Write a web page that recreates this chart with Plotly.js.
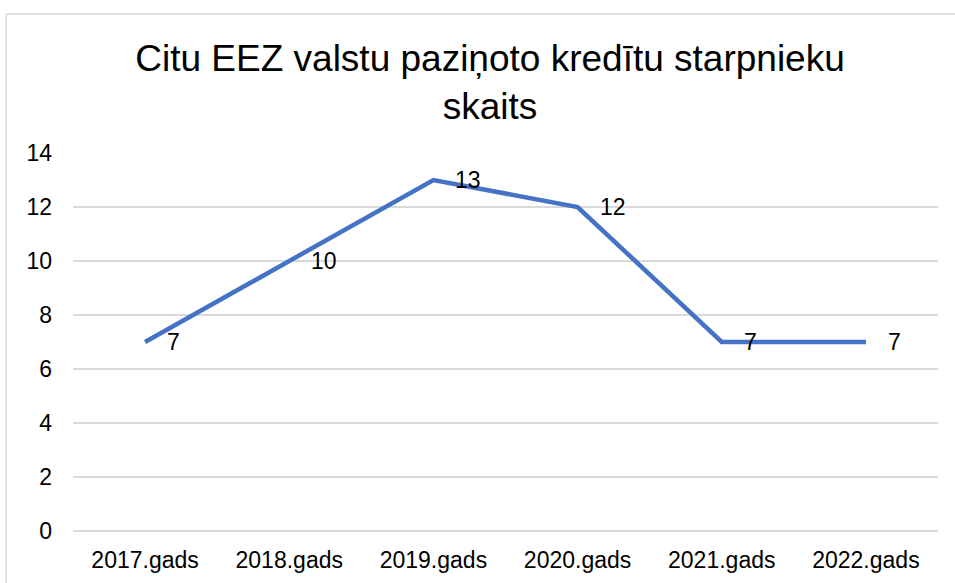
<!DOCTYPE html>
<html>
<head>
<meta charset="utf-8">
<script src="https://cdn.plot.ly/plotly-3.0.1.min.js"></script>
<style>
html, body { margin: 0; padding: 0; background: #ffffff; }
#chart { width: 955px; height: 583px; }
</style>
</head>
<body>
<div id="chart"></div>
<script>
const categories = ['2017.gads', '2018.gads', '2019.gads', '2020.gads', '2021.gads', '2022.gads'];
const values = [7, 10, 13, 12, 7, 7];
const yTicks = [0, 2, 4, 6, 8, 10, 12, 14];
const titleText = 'Citu EEZ valstu paziņoto kredītu starpnieku<br>skaits';

const FONT = 'Liberation Sans, Arial, sans-serif';

const trace = {
  x: categories,
  y: values,
  type: 'scatter',
  mode: 'lines',
  line: { color: '#4472C4', width: 4.5 },
  hoverinfo: 'x+y'
};

const labels = categories.map((c, i) => ({
  x: c, y: values[i], xref: 'x', yref: 'y',
  text: String(values[i]), showarrow: false,
  xanchor: 'left', yanchor: 'middle', xshift: 20,
  font: { family: FONT, size: 23, color: '#000000' }
}));

const layout = {
  width: 955, height: 583,
  margin: { l: 73, r: 17, t: 153, b: 52 },
  paper_bgcolor: '#ffffff', plot_bgcolor: '#ffffff',
  showlegend: false,
  font: { family: FONT, color: '#000000' },
  title: {
    text: titleText,
    font: { family: FONT, size: 37, color: '#000000' },
    x: 490 / 955, xanchor: 'center', xref: 'container',
    y: 1 - 71 / 583, yanchor: 'top', yref: 'container'
  },
  xaxis: {
    type: 'category', range: [-0.5, 5.5],
    showgrid: false, zeroline: false, showline: false, ticks: '',
    tickfont: { family: FONT, size: 23, color: '#000000' },
    ticklabelstandoff: 13, fixedrange: true
  },
  yaxis: {
    range: [0, 14], tickvals: yTicks, ticktext: yTicks.map(String),
    showgrid: true, gridcolor: '#d9d9d9', gridwidth: 1.3,
    zeroline: true, zerolinecolor: '#d9d9d9', zerolinewidth: 1.3,
    showline: false, ticks: '',
    tickfont: { family: FONT, size: 23, color: '#000000' },
    ticklabelstandoff: 20, fixedrange: true
  },
  annotations: labels,
  shapes: [
    { type: 'line', xref: 'paper', yref: 'paper',
      x0: (6 - 73) / 865, x1: (6 - 73) / 865, y0: (531 - 14) / 378, y1: -0.2,
      line: { color: '#d9d9d9', width: 1.3 } },
    { type: 'line', xref: 'paper', yref: 'paper',
      x0: (6 - 73) / 865, x1: 1.1, y0: (531 - 14) / 378, y1: (531 - 14) / 378,
      line: { color: '#d9d9d9', width: 1.3 } }
  ]
};

Plotly.newPlot('chart', [trace], layout, { staticPlot: true, displayModeBar: false });
</script>
</body>
</html>
